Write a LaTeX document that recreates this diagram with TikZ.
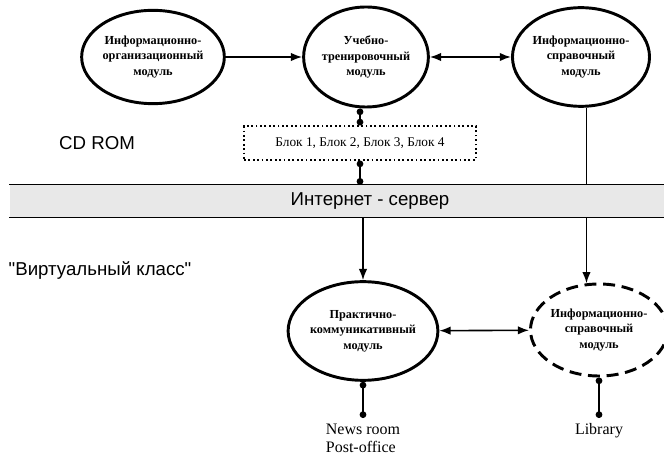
\documentclass[tikz,border=0pt]{standalone}
\usepackage{fontspec}
\setmainfont{Liberation Serif}
\setsansfont{Liberation Sans}[Ligatures=TeXOff]
\usetikzlibrary{shapes.geometric,positioning,arrows.meta}

\begin{document}
\begin{tikzpicture}[x=0.75pt,y=0.75pt,yscale=-1,xscale=1,
    modul/.style={ellipse,draw,line width=2.2pt,inner sep=0pt,align=center,font=\fontsize{9.2}{11.6}\selectfont\bfseries},
    conn/.style={line width=1.2pt},
    dots/.style={{Circle[length=5pt]}-{Circle[length=5pt]}},
    sanslabel/.style={font=\sffamily\fontsize{14}{16}\selectfont}]
    \path[use as bounding box] (0,0) rectangle (664,459);

    % Modules (CD ROM)
    \node[modul,minimum width=87pt,minimum height=70pt] (orgmod) at (153,57) {Информационно-\\организационный\\модуль};
    \node[modul,minimum width=86pt,minimum height=75pt] (trenmod) at (366,57) {Учебно-\\тренировочный\\модуль};
    \node[modul,minimum width=86pt,minimum height=74pt] (sprmod) at (581,57) {Информационно-\\справочный\\модуль};
    % Text Node
    \node[sanslabel] (cdrom) at (97,143) {CD ROM};
    \node[draw,dotted,line width=1.3pt,minimum width=174pt,minimum height=25pt,font=\fontsize{10}{12}\selectfont] (blok) at (360,143) {Блок 1, Блок 2, Блок 3, Блок 4};

    % Server band
    \node[fill=gray!18,minimum width=491pt,minimum height=24pt,inner sep=0pt] (band) at (337,201) {};
    \draw[line width=0.9pt] (band.north west) -- (band.north east);
    \draw[line width=0.9pt] (band.south west) -- (band.south east);
    \node[sanslabel] (server) at (370,201) {Интернет - сервер};

    % Modules (virtual class)
    \node[sanslabel] (virt) at (100,271) {"Виртуальный класс"};
    \node[modul,minimum width=80pt,minimum height=74pt] (prakmod) at (363,331) {Практично-\\коммуникативный\\модуль};
    \node[modul,dash pattern=on 9pt off 5pt,minimum width=86pt,minimum height=69pt] (libmod) at (599,330) {Информационно-\\справочный\\модуль};
    % Text Node
    \node[anchor=north,align=left,inner xsep=1pt,inner ysep=4pt,font=\fontsize{12}{14}\selectfont] (news) at (363,418) {News room\\Post-office};
    \node[anchor=north,inner xsep=1pt,inner ysep=4pt,font=\fontsize{12}{14}\selectfont] (lib) at (599,418) {Library};

    % Connection
    \draw[conn,-Latex] (orgmod) -- (trenmod);
    \draw[conn,Latex-Latex] (trenmod) -- (sprmod);
    \draw[conn,dots] (trenmod.south -| blok.north) -- (blok.north);
    \draw[conn,dots] (blok.south) -- (blok.south |- band.north);
    \draw[conn] (sprmod.-84) -- (sprmod.-84 |- band.north);
    % Connection
    \draw[conn,-Latex] (prakmod.north |- band.south) -- (prakmod.north);
    \draw[conn,-Latex] (libmod.105 |- band.south) -- (libmod.105);
    \draw[conn,Latex-Latex] (prakmod) -- (libmod);
    \draw[conn,dots] (prakmod.south) -- (news.north);
    \draw[conn,dots] (libmod.south) -- (lib.north);

\end{tikzpicture}
\end{document}
